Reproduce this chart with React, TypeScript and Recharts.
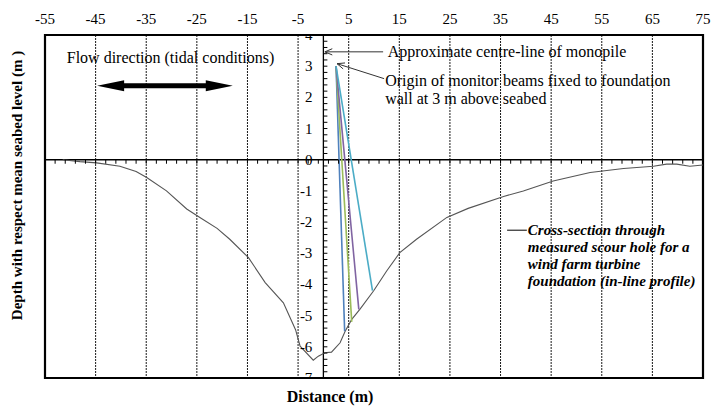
import {
  ComposedChart, Line, Scatter, XAxis, YAxis, CartesianGrid,
  ReferenceLine, ReferenceArea, ReferenceDot,
} from 'recharts';

// Measured scour-hole profile (in-line cross-section)
const distance = [
  -51.5, -48.1, -44.8, -40.2, -37, -34.9, -31, -27, -24.4, -21, -18.5, -14.8,
  -11.5, -7.9, -5.5, -4.6, -2.0, -1.0, 0.3, 1.6, 3.3, 4.3, 5.6, 7.2, 9.9, 12.5,
  15.1, 18.4, 24.4, 28.6, 35.6, 39.5, 45.4, 52.7, 59.3, 65.2, 67.8, 69.8, 72.4, 75,
];
const depth = [
  0, -0.06, -0.1, -0.21, -0.38, -0.57, -1.0, -1.58, -1.85, -2.2, -2.55, -3.14,
  -3.94, -4.59, -5.45, -5.98, -6.43, -6.3, -6.19, -6.17, -5.87, -5.5, -5.12, -4.8, -4.21, -3.57,
  -2.98, -2.55, -1.85, -1.56, -1.18, -1.0, -0.68, -0.41, -0.28, -0.21, -0.14, -0.14, -0.21, -0.17,
];

// Monitor beams: common origin on the foundation wall, end points on the bed
const beamOrigin = { x: 2.5, y: 3 };
const beamEndX = [4.2, 5.6, 7.0, 9.7];
const beamEndY = [-5.5, -5.2, -4.8, -4.2];
const beamColors = ['#4F81BD', '#9BBB59', '#8064A2', '#4BACC6'];

// Axis ticks
const xTicks = [-55, -45, -35, -25, -15, -5, 5, 15, 25, 35, 45, 55, 65, 75];
const yTicks = [4, 3, 2, 1, 0, -1, -2, -3, -4, -5, -6, -7];

const FONT = 'Liberation Serif, DejaVu Serif, serif';

const profileData = distance.map((x, i) => ({ x, y: depth[i] }));
const beamData = beamEndX.map((x, i) => [
  { x: beamOrigin.x, y: beamOrigin.y },
  { x, y: beamEndY[i] },
]);

// minor tick marks along the two zero axes
const xMinor: { x: number; y: number }[] = [];
for (let v = -53; v < 75; v += 2) xMinor.push({ x: v, y: 0 });
const yMinor: { x: number; y: number }[] = [];
for (let k = -35; k <= 20; k++) yMinor.push({ x: 0, y: k / 5 });

const yLabelData = yTicks.map((y) => ({ x: 0, y }));

const txt = { fontFamily: FONT };

// open arrow head at (x2, y2)
const ArrowLine = (props: any) => {
  const { x1, y1, x2, y2 } = props;
  const a = Math.atan2(y2 - y1, x2 - x1);
  const L = 8;
  const s = 0.4;
  const p1 = `${x2 - L * Math.cos(a - s)},${y2 - L * Math.sin(a - s)}`;
  const p2 = `${x2 - L * Math.cos(a + s)},${y2 - L * Math.sin(a + s)}`;
  return (
    <g>
      <line x1={x1} y1={y1} x2={x2} y2={y2} stroke="#333" strokeWidth={1} />
      <polyline points={`${p1} ${x2},${y2} ${p2}`} fill="none" stroke="#333" strokeWidth={1} />
    </g>
  );
};

const DoubleArrow = (props: any) => {
  const { x1, y1, x2 } = props;
  const y = y1;
  const head = 27;
  const hw = 5.5;
  const sw = 2.5;
  const pts = [
    [x1, y], [x1 + head, y - hw], [x1 + head, y - sw], [x2 - head, y - sw], [x2 - head, y - hw],
    [x2, y], [x2 - head, y + hw], [x2 - head, y + sw], [x1 + head, y + sw], [x1 + head, y + hw],
  ].map((p) => p.join(',')).join(' ');
  return <polygon points={pts} fill="#000" />;
};

const noteText = (lines: string[], opts: { italic?: boolean; bold?: boolean; size?: number; gap?: number }) =>
  (props: any) => {
    const { cx, cy } = props;
    return (
      <text
        x={cx}
        y={cy}
        style={txt}
        fontSize={opts.size ?? 16}
        fontStyle={opts.italic ? 'italic' : 'normal'}
        fontWeight={opts.bold ? 'bold' : 'normal'}
        fill="#000"
      >
        {lines.map((t, i) => (
          <tspan key={i} x={cx} dy={i === 0 ? '0.35em' : opts.gap ?? 17}>{t}</tspan>
        ))}
      </text>
    );
  };

export default function App() {
  return (
    <div style={{ position: 'fixed', left: 0, top: 0, width: 713, height: 408, background: '#fff', fontFamily: FONT }}>
      <ComposedChart width={713} height={408} margin={{ top: 5, right: 10, bottom: 0, left: 0 }} style={txt}>
        <CartesianGrid xAxisId="top" yAxisId="y" stroke="#1a1a1a" strokeDasharray="2 1" strokeWidth={1} />
        <XAxis
          xAxisId="top"
          dataKey="x"
          type="number"
          orientation="top"
          domain={[-55, 75]}
          ticks={xTicks}
          interval={0}
          height={30}
          axisLine={false}
          tickLine={false}
          tickMargin={5}
          tick={{ fill: '#000', fontSize: 15, style: txt }}
          allowDataOverflow
        />
        <XAxis
          xAxisId="bottom"
          dataKey="x"
          type="number"
          orientation="bottom"
          domain={[-55, 75]}
          ticks={xTicks}
          height={30}
          axisLine={false}
          tickLine={false}
          tick={false}
          label={{
            content: ({ viewBox }: any) => (
              <text
                x={330}
                y={viewBox.y + 18}
                textAnchor="middle"
                dominantBaseline="central"
                style={txt}
                fontSize={16}
                fontWeight="bold"
                fill="#000"
              >
                Distance (m)
              </text>
            ),
          }}
        />
        <YAxis
          yAxisId="y"
          dataKey="y"
          type="number"
          domain={[-7, 4]}
          ticks={yTicks}
          interval={0}
          width={45}
          axisLine={false}
          tickLine={false}
          tick={false}
          allowDataOverflow
          label={{
            content: ({ viewBox }: any) => {
              const cx = viewBox.x + 17;
              const cy = viewBox.y + viewBox.height / 2 - 21;
              return (
                <text
                  x={cx}
                  y={cy}
                  transform={`rotate(-90 ${cx} ${cy})`}
                  textAnchor="middle"
                  dominantBaseline="central"
                  style={txt}
                  fontSize={15}
                  fontWeight="bold"
                  fill="#000"
                >
                  Depth with respect mean seabed level (m )
                </text>
              );
            },
          }}
        />

        <ReferenceLine xAxisId="top" yAxisId="y" y={0} stroke="#000" strokeWidth={1.3} />
        <ReferenceLine xAxisId="top" yAxisId="y" x={0} stroke="#000" strokeWidth={1.3} />

        <Scatter
          xAxisId="top"
          yAxisId="y"
          data={xMinor}
          isAnimationActive={false}
          shape={(p: any) => <line x1={p.cx} y1={p.cy} x2={p.cx} y2={p.cy + 4} stroke="#000" strokeWidth={1} />}
        />
        <Scatter
          xAxisId="top"
          yAxisId="y"
          data={yMinor}
          isAnimationActive={false}
          shape={(p: any) => <line x1={p.cx} y1={p.cy} x2={p.cx + 4} y2={p.cy} stroke="#000" strokeWidth={1} />}
        />
        <Scatter
          xAxisId="top"
          yAxisId="y"
          data={yLabelData}
          isAnimationActive={false}
          shape={(p: any) => (
            <text
              x={p.cx - 11}
              y={p.cy}
              textAnchor="end"
              dominantBaseline="central"
              style={txt}
              fontSize={15}
              fill="#000"
            >
              {p.payload.y}
            </text>
          )}
        />

        <Line
          xAxisId="top"
          yAxisId="y"
          data={profileData}
          dataKey="y"
          type="linear"
          stroke="#555"
          strokeWidth={1.1}
          dot={false}
          isAnimationActive={false}
        />
        {beamData.map((d, i) => (
          <Line
            key={i}
            xAxisId="top"
            yAxisId="y"
            data={d}
            dataKey="y"
            type="linear"
            stroke={beamColors[i]}
            strokeWidth={1.6}
            dot={false}
            isAnimationActive={false}
          />
        ))}

        {/* annotations */}
        <ReferenceLine
          xAxisId="top"
          yAxisId="y"
          segment={[{ x: -44.7, y: 2.37 }, { x: -17.9, y: 2.37 }]}
          shape={DoubleArrow}
        />
        <ReferenceLine
          xAxisId="top"
          yAxisId="y"
          segment={[{ x: 11.8, y: 3.46 }, { x: 0.3, y: 3.46 }]}
          shape={ArrowLine}
        />
        <ReferenceLine
          xAxisId="top"
          yAxisId="y"
          segment={[{ x: 12.0, y: 2.6 }, { x: 2.7, y: 3.08 }]}
          shape={ArrowLine}
        />
        <ReferenceLine
          xAxisId="top"
          yAxisId="y"
          segment={[{ x: 36.3, y: -2.26 }, { x: 40.2, y: -2.26 }]}
          stroke="#000"
          strokeWidth={1}
        />
        <ReferenceDot
          xAxisId="top"
          yAxisId="y"
          x={-50.7}
          y={3.27}
          r={0}
          shape={noteText(['Flow direction (tidal conditions)'], {})}
        />
        <ReferenceDot
          xAxisId="top"
          yAxisId="y"
          x={12.7}
          y={3.46}
          r={0}
          shape={noteText(['Approximate  centre-line of monopile'], {})}
        />
        <ReferenceDot
          xAxisId="top"
          yAxisId="y"
          x={12.2}
          y={2.53}
          r={0}
          shape={noteText(['Origin of monitor beams fixed to foundation', 'wall at 3 m above seabed'], { gap: 18 })}
        />
        <ReferenceDot
          xAxisId="top"
          yAxisId="y"
          x={40.4}
          y={-2.26}
          r={0}
          shape={noteText(
            ['Cross-section through', 'measured scour hole for a', 'wind farm turbine', 'foundation (in-line profile)'],
            { italic: true, bold: true, size: 15, gap: 16.8 }
          )}
        />

        <ReferenceArea
          xAxisId="top"
          yAxisId="y"
          x1={-55}
          x2={75}
          y1={-7}
          y2={4}
          fill="none"
          fillOpacity={0}
          stroke="#000"
          strokeWidth={2.2}
          ifOverflow="visible"
        />
      </ComposedChart>
    </div>
  );
}
